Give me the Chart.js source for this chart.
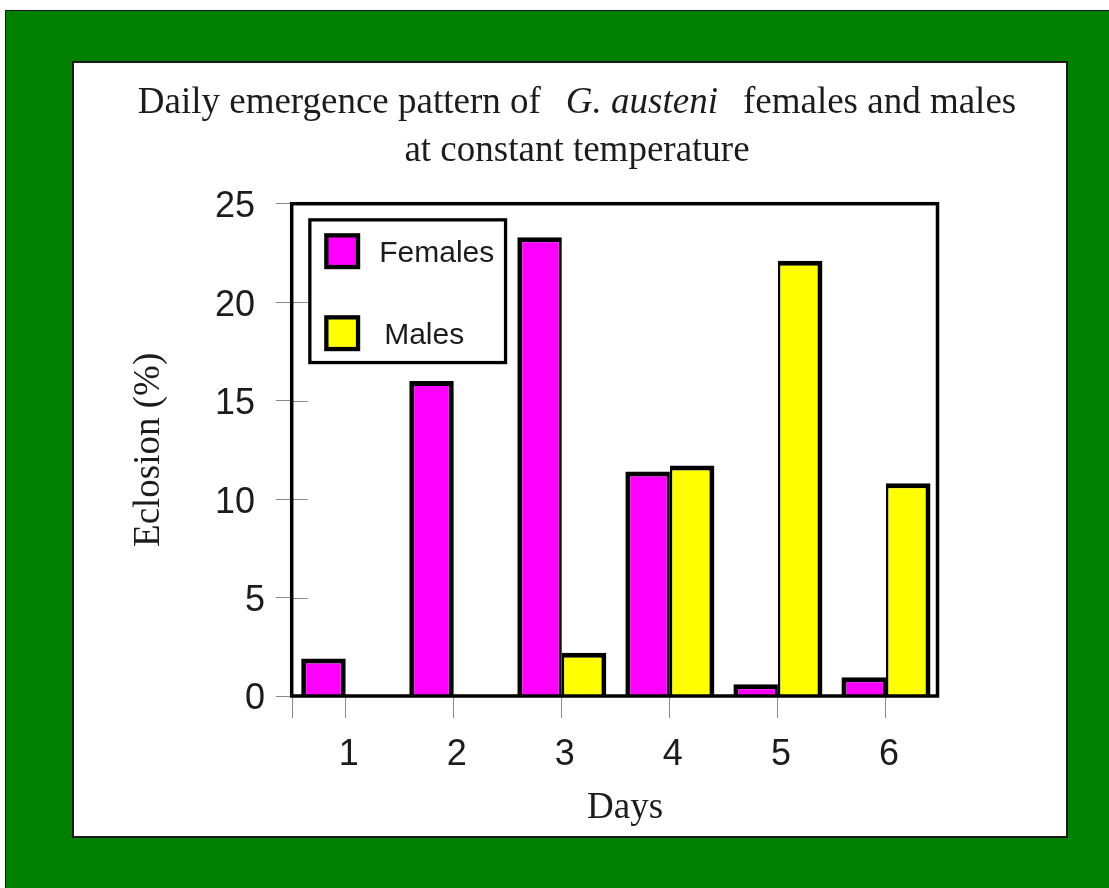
<!DOCTYPE html>
<html lang="en">
<head>
    <meta charset="UTF-8">
    <title>Daily emergence pattern of G. austeni</title>
    <style>
        html, body { margin: 0; padding: 0; background: #fff; }
        body { width: 1109px; height: 888px; position: relative; overflow: hidden; }
        .fundo {
            position: absolute; left: 5px; top: 10px; width: 1120px; height: 900px;
            background: #008000; border: 1.5px solid #151515;
        }
        .painel {
            position: absolute; left: 72px; top: 61px; width: 996px; height: 777px;
            box-sizing: border-box; background: #fff; border: 2px solid #1a1a1a;
        }
        #grafico { position: absolute; left: 0; top: 0; }
    </style>
</head>
<body>
    <div class="fundo"></div>
    <div class="painel"></div>
    <canvas id="grafico" width="1109" height="888"></canvas>

    <script src="https://cdn.jsdelivr.net/npm/chart.js"></script>
    <script>
        // data
        var days = ["1", "2", "3", "4", "5", "6"];
        var females = [1.9, 16.0, 23.3, 11.4, 0.6, 0.95];
        var males = [0, 0, 2.2, 11.7, 22.1, 10.8];
        var yTicks = [0, 5, 10, 15, 20, 25];

        var titleLine1 = ["Daily emergence pattern of", "G. austeni", "females and males"];
        var titleLine2 = "at constant temperature";
        var xTitle = "Days";
        var yTitle = "Eclosion (%)";

        var sans = "'Liberation Sans', Arial, sans-serif";
        var serif = "'Liberation Serif', 'Times New Roman', serif";
        var ink = "#1c1c1c";

        // title with the species name in italics
        var titlePlugin = {
            id: "titleMixed",
            afterDraw: function (chart) {
                var c = chart.ctx;
                var normal = "37px " + serif;
                var italic = "italic 37px " + serif;
                var gap = 25;
                c.save();
                c.fillStyle = ink;
                c.textBaseline = "alphabetic";
                c.textAlign = "left";
                c.font = normal;
                var w1 = c.measureText(titleLine1[0]).width;
                var w3 = c.measureText(titleLine1[2]).width;
                c.font = italic;
                var w2 = c.measureText(titleLine1[1]).width;
                var x = 577 - (w1 + gap + w2 + gap + w3) / 2;
                c.font = normal;
                c.fillText(titleLine1[0], x, 113);
                c.font = italic;
                c.fillText(titleLine1[1], x + w1 + gap, 113);
                c.font = normal;
                c.fillText(titleLine1[2], x + w1 + gap + w2 + gap, 113);
                c.textAlign = "center";
                c.fillText(titleLine2, 577, 160.5);
                c.restore();
            }
        };

        // inner tick marks on the y axis, the extra tick at the left end of x, the frame
        var ticksPlugin = {
            id: "innerTicks",
            beforeDatasetsDraw: function (chart) {
                var c = chart.ctx;
                var a = chart.chartArea;
                var y = chart.scales.y;
                c.save();
                c.strokeStyle = "#8a8a8a";
                c.lineWidth = 1;
                c.beginPath();
                for (var i = 1; i < yTicks.length - 1; i++) {
                    var py = Math.round(y.getPixelForValue(yTicks[i])) + 0.5;
                    c.moveTo(a.left, py);
                    c.lineTo(a.left + 16, py);
                }
                c.moveTo(Math.round(a.left) + 0.5, a.bottom);
                c.lineTo(Math.round(a.left) + 0.5, a.bottom + 22);
                c.stroke();
                c.restore();
            },
            afterDatasetsDraw: function (chart) {
                var c = chart.ctx;
                var a = chart.chartArea;
                c.save();
                c.strokeStyle = "#000";
                c.lineWidth = 3.5;
                c.strokeRect(a.left, a.top, a.right - 2.5 - a.left, a.bottom - a.top);
                c.restore();
            }
        };

        // boxed legend inside the plot
        var legendPlugin = {
            id: "boxLegend",
            afterDraw: function (chart) {
                var c = chart.ctx;
                var a = chart.chartArea;
                var bx = a.left + 16.5;
                var by = a.top + 14.5;
                c.save();
                c.fillStyle = "#fff";
                c.fillRect(bx, by, 199, 146);
                c.strokeStyle = "#000";
                c.lineWidth = 3.3;
                c.strokeRect(bx + 1.65, by + 1.65, 199 - 3.3, 146 - 3.3);

                var rows = [
                    { top: 15, base: 44, textX: 71 },
                    { top: 97, base: 126, textX: 76 }
                ];
                c.font = "30px " + sans;
                c.textBaseline = "alphabetic";
                c.textAlign = "left";
                chart.data.datasets.forEach(function (ds, i) {
                    var r = rows[i];
                    c.fillStyle = "#000";
                    c.fillRect(bx + 16, by + r.top, 36, 36);
                    c.fillStyle = ds.backgroundColor;
                    c.fillRect(bx + 20.3, by + r.top + 4.3, 27.4, 27.4);
                    c.fillStyle = ink;
                    c.fillText(ds.label, bx + r.textX, by + r.base);
                });
                c.restore();
            }
        };

        function graficoEmergencia() {
            var data = {
                labels: days,
                datasets: [{
                    label: "Females",
                    data: females,
                    backgroundColor: "#ff00ff",
                    borderColor: "#000",
                    borderWidth: function (ctx) {
                        var shared = males[ctx.dataIndex] > 0;
                        return { top: 5, left: 5, right: shared ? 3 : 5, bottom: 0 };
                    }
                }, {
                    label: "Males",
                    data: males,
                    backgroundColor: "#ffff00",
                    borderColor: "#000",
                    borderWidth: { top: 5, left: 2.5, right: 5, bottom: 0 }
                }]
            };

            var config = {
                type: "bar",
                data: data,
                options: {
                    responsive: false,
                    animation: false,
                    layout: { padding: { top: 203.7, right: 169, bottom: 0, left: 0 } },
                    datasets: { bar: { categoryPercentage: 0.824, barPercentage: 1 } },
                    plugins: {
                        legend: { display: false },
                        title: { display: false },
                        tooltip: { enabled: false }
                    },
                    scales: {
                        x: {
                            grid: { offset: false, drawOnChartArea: false, tickLength: 22, color: "#8a8a8a", lineWidth: 1 },
                            border: { display: false },
                            ticks: {
                                color: ink,
                                font: { family: sans, size: 36 },
                                padding: 15,
                                labelOffset: 3,
                                maxRotation: 0
                            },
                            title: {
                                display: true,
                                // en space nudges the centred title right, as in the original
                                text: "\u2002" + xTitle,
                                color: ink,
                                font: { family: serif, size: 37 },
                                padding: { top: 0, bottom: 58 }
                            },
                            afterFit: function (scale) { scale.height = 888 - 696; }
                        },
                        y: {
                            min: yTicks[0],
                            max: yTicks[yTicks.length - 1],
                            grid: { drawOnChartArea: false, tickLength: 16, color: "#8a8a8a", lineWidth: 1 },
                            border: { display: false },
                            ticks: {
                                stepSize: 5,
                                color: ink,
                                font: { family: sans, size: 36 },
                                padding: 10.7,
                                labelOffset: 3.5,
                                // two-digit labels sit a little further left in the original
                                callback: function (v) { return v >= 10 ? v + " " : "" + v; }
                            },
                            title: {
                                display: true,
                                text: yTitle,
                                color: ink,
                                font: { family: serif, size: 37 },
                                padding: { top: 127, bottom: 0 }
                            },
                            afterFit: function (scale) { scale.width = 291.7; }
                        }
                    }
                },
                plugins: [ticksPlugin, legendPlugin, titlePlugin]
            };

            new Chart(document.getElementById("grafico"), config);
        }

        graficoEmergencia();
    </script>
</body>
</html>
